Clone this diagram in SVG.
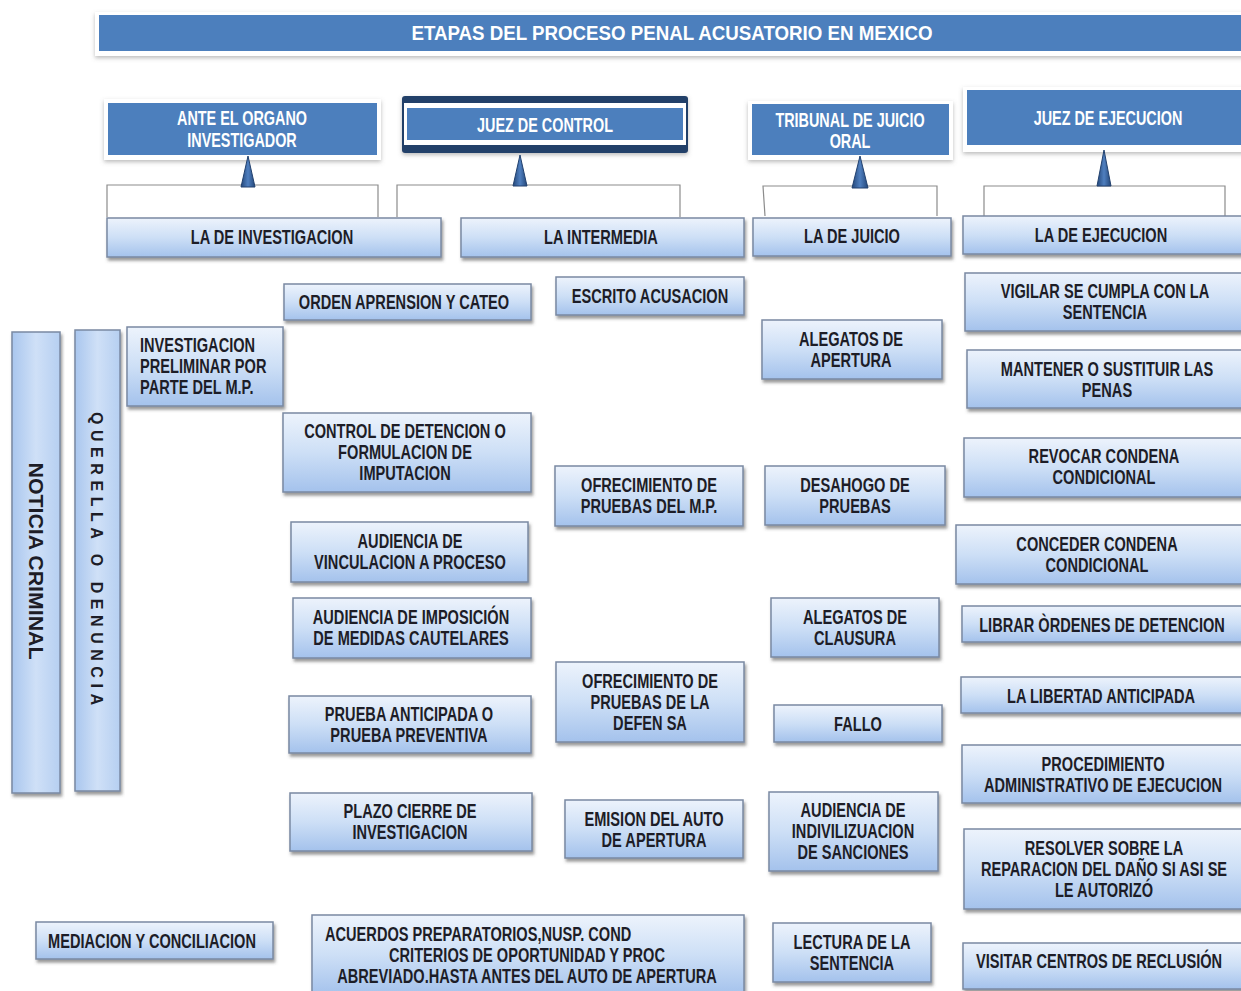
<svg xmlns="http://www.w3.org/2000/svg" width="1241" height="991" viewBox="0 0 1241 991">
<defs>
<linearGradient id="g" x1="0" y1="0" x2="0" y2="1">
<stop offset="0" stop-color="#edf3fc"/>
<stop offset="0.5" stop-color="#cddff6"/>
<stop offset="1" stop-color="#a4c2ec"/>
</linearGradient>
<linearGradient id="gv" x1="0" y1="0" x2="1" y2="0">
<stop offset="0" stop-color="#a9c6ee"/>
<stop offset="0.5" stop-color="#cfe0f7"/>
<stop offset="1" stop-color="#b6cff1"/>
</linearGradient>
<linearGradient id="tri" x1="0" y1="0" x2="1" y2="0">
<stop offset="0" stop-color="#24477a"/>
<stop offset="0.5" stop-color="#4f7fbf"/>
<stop offset="1" stop-color="#24477a"/>
</linearGradient>
<filter id="sh" x="-10%" y="-20%" width="120%" height="150%">
<feDropShadow dx="1.5" dy="3" stdDeviation="1.8" flood-color="#4a4a4a" flood-opacity="0.55"/>
</filter>
<filter id="sh2" x="-10%" y="-20%" width="120%" height="150%">
<feDropShadow dx="0" dy="2" stdDeviation="2" flood-color="#777" flood-opacity="0.5"/>
</filter>
</defs>
<style>
.bx{fill:url(#g);stroke:#7a89a2;stroke-width:1.5;filter:url(#sh)}
.bv{fill:url(#gv);stroke:#7a89a2;stroke-width:1.5;filter:url(#sh)}
.fr{fill:#ffffff;filter:url(#sh2)}
.hd{fill:#4c7fbd}
.t{font-family:"Liberation Sans",Arial,sans-serif;font-weight:700;font-size:20px;fill:#1d1d27;text-anchor:middle}
.w{fill:#ffffff}
.l{text-anchor:start}
.ln{fill:none;stroke:#8c8c8c;stroke-width:1.2}
.tr{fill:url(#tri);stroke:#22416e;stroke-width:1}
</style>
<rect width="1241" height="991" fill="#ffffff"/>

<g id="title">
<rect class="fr" x="95" y="12" width="1150" height="44"/>
<rect class="hd" x="99" y="15" width="1146" height="36"/>
<text class="t w" x="672" y="40" textLength="521" lengthAdjust="spacingAndGlyphs">ETAPAS DEL PROCESO PENAL ACUSATORIO EN MEXICO</text>
</g>

<g id="h-organo">
<rect class="fr" x="104" y="99" width="277" height="61"/>
<rect class="hd" x="108" y="103" width="269" height="52"/>
<text class="t w" transform="translate(242 0) scale(0.72 1)"><tspan x="0" y="125">ANTE EL ORGANO</tspan><tspan x="0" y="147">INVESTIGADOR</tspan></text>
</g>
<g id="h-control">
<rect x="402" y="96" width="286" height="57" rx="3" fill="#223f69" filter="url(#sh2)"/>
<rect x="404" y="103" width="282" height="42" fill="#ffffff"/>
<rect class="hd" x="407" y="108" width="276" height="32"/>
<text class="t w" transform="translate(545 0) scale(0.72 1)"><tspan x="0" y="132">JUEZ DE CONTROL</tspan></text>
</g>
<g id="h-tribunal">
<rect class="fr" x="748" y="101" width="205" height="59"/>
<rect class="hd" x="752" y="104" width="197" height="51"/>
<text class="t w" transform="translate(850 0) scale(0.72 1)"><tspan x="0" y="127">TRIBUNAL  DE JUICIO</tspan><tspan x="0" y="148">ORAL</tspan></text>
</g>
<g id="h-ejecucion">
<rect class="fr" x="963" y="87" width="285" height="65"/>
<rect class="hd" x="967" y="90" width="280" height="55"/>
<text class="t w" transform="translate(1108 0) scale(0.72 1)"><tspan x="0" y="125">JUEZ DE EJECUCION</tspan></text>
</g>

<g id="connectors">
<path class="ln" d="M107 217 V185 H378 V217"/>
<path class="ln" d="M397 217 V185 H680 V217"/>
<path class="ln" d="M765 216 L763 186 H937 V216"/>
<path class="ln" d="M984 216 V186 H1225 V216"/>
<polygon class="tr" points="248,156 241,187 255,187"/>
<polygon class="tr" points="520,155 513,186 527,186"/>
<polygon class="tr" points="860,156 852,188 868,188"/>
<polygon class="tr" points="1104,150 1097,186 1111,186"/>
</g>

<g id="s-investigacion"><rect class="bx" x="107" y="218" width="334" height="39"/>
<text class="t" transform="translate(272 0) scale(0.73 1)"><tspan x="0" y="244">LA DE INVESTIGACION</tspan></text></g>
<g id="s-intermedia"><rect class="bx" x="461" y="218" width="283" height="39"/>
<text class="t" transform="translate(601 0) scale(0.73 1)"><tspan x="0" y="244">LA INTERMEDIA</tspan></text></g>
<g id="s-juicio"><rect class="bx" x="753" y="218" width="198" height="38"/>
<text class="t" transform="translate(852 0) scale(0.73 1)"><tspan x="0" y="243">LA DE JUICIO</tspan></text></g>
<g id="s-ejecucion"><rect class="bx" x="963" y="216" width="282" height="38"/>
<text class="t" transform="translate(1101 0) scale(0.73 1)"><tspan x="0" y="242">LA DE EJECUCION</tspan></text></g>

<g id="noticia"><rect class="bv" x="12" y="332" width="48" height="461"/>
<text class="t" transform="translate(36 561) rotate(90)" x="0" y="7" textLength="197" lengthAdjust="spacingAndGlyphs">NOTICIA  CRIMINAL</text></g>
<g id="querella"><rect class="bv" x="75" y="330" width="45" height="461"/>
<text class="t" style="font-size:16px;text-anchor:start" transform="translate(97 558) rotate(90)" x="-146" y="6" textLength="293" lengthAdjust="spacing">QUERELLA O DENUNCIA</text></g>

<g id="n-preliminar"><rect class="bx" x="127" y="327" width="156" height="79"/>
<text class="t l" transform="translate(140 0) scale(0.73 1)"><tspan x="0" y="352">INVESTIGACION</tspan><tspan x="0" y="373">PRELIMINAR  POR</tspan><tspan x="0" y="394">PARTE  DEL  M.P.</tspan></text></g>
<g id="n-orden"><rect class="bx" x="284" y="284" width="247" height="36"/>
<text class="t" transform="translate(404 0) scale(0.73 1)"><tspan x="0" y="309">ORDEN  APRENSION  Y CATEO</tspan></text></g>
<g id="n-control"><rect class="bx" x="283" y="413" width="248" height="79"/>
<text class="t" transform="translate(405 0) scale(0.73 1)"><tspan x="0" y="438">CONTROL DE DETENCION  O</tspan><tspan x="0" y="459">FORMULACION DE</tspan><tspan x="0" y="480">IMPUTACION</tspan></text></g>
<g id="n-vinculacion"><rect class="bx" x="291" y="522" width="237" height="60"/>
<text class="t" transform="translate(410 0) scale(0.73 1)"><tspan x="0" y="548">AUDIENCIA  DE</tspan><tspan x="0" y="569">VINCULACION  A PROCESO</tspan></text></g>
<g id="n-cautelares"><rect class="bx" x="293" y="598" width="238" height="60"/>
<text class="t" transform="translate(411 0) scale(0.73 1)"><tspan x="0" y="624">AUDIENCIA  DE  IMPOSICIÓN</tspan><tspan x="0" y="645">DE  MEDIDAS  CAUTELARES</tspan></text></g>
<g id="n-prueba"><rect class="bx" x="289" y="696" width="242" height="57"/>
<text class="t" transform="translate(409 0) scale(0.73 1)"><tspan x="0" y="721">PRUEBA  ANTICIPADA O</tspan><tspan x="0" y="742">PRUEBA  PREVENTIVA</tspan></text></g>
<g id="n-plazo"><rect class="bx" x="290" y="793" width="242" height="58"/>
<text class="t" transform="translate(410 0) scale(0.73 1)"><tspan x="0" y="818">PLAZO CIERRE  DE</tspan><tspan x="0" y="839">INVESTIGACION</tspan></text></g>
<g id="n-acuerdos"><rect class="bx" x="312" y="915" width="432" height="80"/>
<text class="t" transform="translate(325 0) scale(0.73 1)"><tspan class="l" x="0" y="941">ACUERDOS  PREPARATORIOS,NUSP.  COND</tspan></text>
<text class="t" transform="translate(527 0) scale(0.73 1)"><tspan x="0" y="962">CRITERIOS  DE OPORTUNIDAD  Y PROC</tspan><tspan x="0" y="983">ABREVIADO.HASTA  ANTES DEL AUTO DE APERTURA</tspan></text></g>
<g id="n-mediacion"><rect class="bx" x="36" y="922" width="237" height="37"/>
<text class="t" transform="translate(152 0) scale(0.73 1)"><tspan x="0" y="948">MEDIACION  Y CONCILIACION</tspan></text></g>

<g id="n-escrito"><rect class="bx" x="556" y="277" width="188" height="38"/>
<text class="t" transform="translate(650 0) scale(0.73 1)"><tspan x="0" y="303">ESCRITO  ACUSACION</tspan></text></g>
<g id="n-ofmp"><rect class="bx" x="555" y="466" width="188" height="60"/>
<text class="t" transform="translate(649 0) scale(0.73 1)"><tspan x="0" y="492">OFRECIMIENTO  DE</tspan><tspan x="0" y="513">PRUEBAS  DEL  M.P.</tspan></text></g>
<g id="n-ofdef"><rect class="bx" x="556" y="662" width="188" height="80"/>
<text class="t" transform="translate(650 0) scale(0.73 1)"><tspan x="0" y="688">OFRECIMIENTO  DE</tspan><tspan x="0" y="709">PRUEBAS  DE LA</tspan><tspan x="0" y="730">DEFEN SA</tspan></text></g>
<g id="n-emision"><rect class="bx" x="565" y="800" width="178" height="58"/>
<text class="t" transform="translate(654 0) scale(0.73 1)"><tspan x="0" y="826">EMISION  DEL  AUTO</tspan><tspan x="0" y="847">DE  APERTURA</tspan></text></g>

<g id="n-alegap"><rect class="bx" x="762" y="320" width="180" height="59"/>
<text class="t" transform="translate(851 0) scale(0.73 1)"><tspan x="0" y="346">ALEGATOS DE</tspan><tspan x="0" y="367">APERTURA</tspan></text></g>
<g id="n-desahogo"><rect class="bx" x="765" y="466" width="180" height="59"/>
<text class="t" transform="translate(855 0) scale(0.73 1)"><tspan x="0" y="492">DESAHOGO  DE</tspan><tspan x="0" y="513">PRUEBAS</tspan></text></g>
<g id="n-alegcl"><rect class="bx" x="771" y="598" width="168" height="59"/>
<text class="t" transform="translate(855 0) scale(0.73 1)"><tspan x="0" y="624">ALEGATOS DE</tspan><tspan x="0" y="645">CLAUSURA</tspan></text></g>
<g id="n-fallo"><rect class="bx" x="774" y="705" width="168" height="37"/>
<text class="t" transform="translate(858 0) scale(0.73 1)"><tspan x="0" y="731">FALLO</tspan></text></g>
<g id="n-indiv"><rect class="bx" x="769" y="792" width="169" height="79"/>
<text class="t" transform="translate(853 0) scale(0.73 1)"><tspan x="0" y="817">AUDIENCIA  DE</tspan><tspan x="0" y="838">INDIVILIZUACION</tspan><tspan x="0" y="859">DE  SANCIONES</tspan></text></g>
<g id="n-lectura"><rect class="bx" x="773" y="923" width="158" height="59"/>
<text class="t" transform="translate(852 0) scale(0.73 1)"><tspan x="0" y="949">LECTURA  DE LA</tspan><tspan x="0" y="970">SENTENCIA</tspan></text></g>

<g id="n-vigilar"><rect class="bx" x="965" y="273" width="280" height="58"/>
<text class="t" transform="translate(1105 0) scale(0.73 1)"><tspan x="0" y="298">VIGILAR SE  CUMPLA CON  LA</tspan><tspan x="0" y="319">SENTENCIA</tspan></text></g>
<g id="n-mantener"><rect class="bx" x="967" y="350" width="278" height="58"/>
<text class="t" transform="translate(1107 0) scale(0.73 1)"><tspan x="0" y="376">MANTENER  O SUSTITUIR  LAS</tspan><tspan x="0" y="397">PENAS</tspan></text></g>
<g id="n-revocar"><rect class="bx" x="964" y="438" width="281" height="59"/>
<text class="t" transform="translate(1104 0) scale(0.73 1)"><tspan x="0" y="463">REVOCAR  CONDENA</tspan><tspan x="0" y="484">CONDICIONAL</tspan></text></g>
<g id="n-conceder"><rect class="bx" x="956" y="525" width="289" height="59"/>
<text class="t" transform="translate(1097 0) scale(0.73 1)"><tspan x="0" y="551">CONCEDER  CONDENA</tspan><tspan x="0" y="572">CONDICIONAL</tspan></text></g>
<g id="n-librar"><rect class="bx" x="962" y="606" width="283" height="36"/>
<text class="t" transform="translate(1102 0) scale(0.73 1)"><tspan x="0" y="632">LIBRAR  ÒRDENES  DE  DETENCION</tspan></text></g>
<g id="n-libertad"><rect class="bx" x="961" y="677" width="284" height="36"/>
<text class="t" transform="translate(1101 0) scale(0.73 1)"><tspan x="0" y="703">LA LIBERTAD  ANTICIPADA</tspan></text></g>
<g id="n-procedimiento"><rect class="bx" x="962" y="745" width="283" height="58"/>
<text class="t" transform="translate(1103 0) scale(0.73 1)"><tspan x="0" y="771">PROCEDIMIENTO</tspan><tspan x="0" y="792">ADMINISTRATIVO  DE  EJECUCION</tspan></text></g>
<g id="n-resolver"><rect class="bx" x="964" y="829" width="281" height="80"/>
<text class="t" transform="translate(1104 0) scale(0.73 1)"><tspan x="0" y="855">RESOLVER  SOBRE  LA</tspan><tspan x="0" y="876">REPARACION  DEL  DAÑO  SI ASI  SE</tspan><tspan x="0" y="897">LE  AUTORIZÓ</tspan></text></g>
<g id="n-visitar"><rect class="bx" x="963" y="943" width="282" height="46"/>
<text class="t" transform="translate(1099 0) scale(0.73 1)"><tspan x="0" y="968">VISITAR CENTROS  DE  RECLUSIÓN</tspan></text></g>
</svg>
